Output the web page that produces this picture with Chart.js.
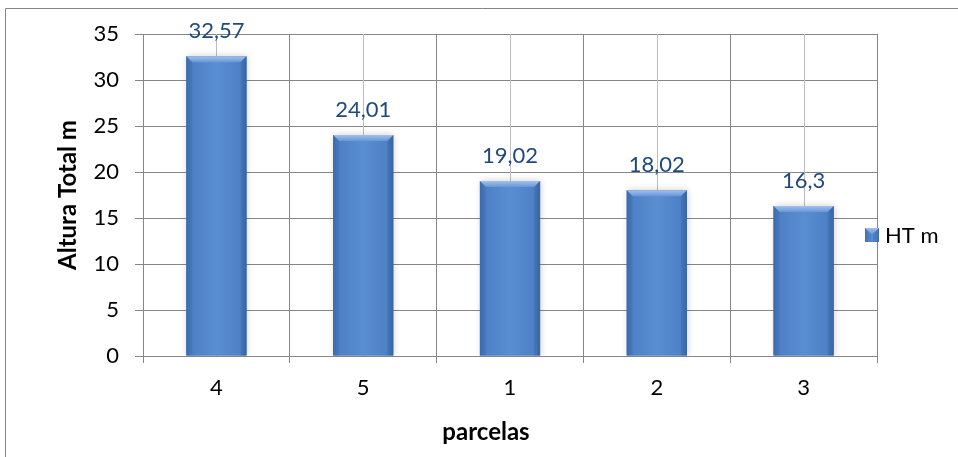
<!DOCTYPE html>
<html>
<head>
<meta charset="utf-8">
<script src="https://cdn.jsdelivr.net/npm/chart.js@4.4.1/dist/chart.umd.min.js"></script>
<style>
  html, body { margin: 0; padding: 0; background: #ffffff; }
  #wrap { position: relative; width: 958px; height: 457px; }
</style>
</head>
<body>
<div id="wrap"><canvas id="chart" width="958" height="457"></canvas></div>
<script>
// Altura total média por parcela
const categories = ['4', '5', '1', '2', '3'];
const htValues = [32.57, 24.01, 19.02, 18.02, 16.3];
const seriesLabel = 'HT m';
const yAxisTitle = 'Altura Total m';
const xAxisTitle = 'parcelas';
const yMin = 0, yMax = 35, yStep = 5;

const FONT = 'Lato, "Liberation Sans", sans-serif';
const GRID = '#868686';
const LABEL_BLUE = '#1F497D';

const fmt = v => String(v).replace('.', ',');

// Horizontal shading for a bar spanning [x0, x1]
function barGradient(ctx, x0, x1) {
  const g = ctx.createLinearGradient(x0, 0, x1, 0);
  g.addColorStop(0, '#3F6FB2');
  g.addColorStop(0.1, '#4D80C5');
  g.addColorStop(0.5, '#5A8ED3');
  g.addColorStop(0.9, '#4D80C5');
  g.addColorStop(1, '#3C6AAB');
  return g;
}

function drawBevelBar(ctx, left, right, top, bottom) {
  ctx.fillStyle = barGradient(ctx, left, right);
  ctx.fillRect(left, top, right - left, bottom - top);
  const b = Math.min(6, (bottom - top) / 2);
  // top bevel
  const tg = ctx.createLinearGradient(0, top, 0, top + b);
  tg.addColorStop(0, '#A3C1EA');
  tg.addColorStop(1, '#6696D8');
  ctx.fillStyle = tg;
  ctx.beginPath();
  ctx.moveTo(left, top);
  ctx.lineTo(right, top);
  ctx.lineTo(right - b, top + b);
  ctx.lineTo(left + b, top + b);
  ctx.closePath();
  ctx.fill();
  // side bevels
  ctx.fillStyle = 'rgba(40,75,130,0.18)';
  ctx.beginPath();
  ctx.moveTo(right, top);
  ctx.lineTo(right, bottom);
  ctx.lineTo(right - b, bottom);
  ctx.lineTo(right - b, top + b);
  ctx.closePath();
  ctx.fill();
  ctx.fillStyle = 'rgba(40,75,130,0.12)';
  ctx.beginPath();
  ctx.moveTo(left, top);
  ctx.lineTo(left + b, top + b);
  ctx.lineTo(left + b, bottom);
  ctx.lineTo(left, bottom);
  ctx.closePath();
  ctx.fill();
}

const decorPlugin = {
  id: 'decor',
  beforeDraw(chart) {
    const ctx = chart.ctx;
    ctx.save();
    ctx.fillStyle = '#ffffff';
    ctx.fillRect(0, 0, chart.width, chart.height);
    ctx.strokeStyle = GRID;
    ctx.lineWidth = 1;
    ctx.beginPath();
    ctx.moveTo(5.5, chart.height + 5);
    ctx.lineTo(5.5, 8.5);
    ctx.lineTo(chart.width + 5, 8.5);
    ctx.stroke();
    ctx.restore();
  },
  beforeDatasetsDraw(chart) {
    // light lines through each category centre
    const ctx = chart.ctx, xs = chart.scales.x, area = chart.chartArea;
    ctx.save();
    ctx.strokeStyle = '#BDBDBD';
    ctx.lineWidth = 1;
    categories.forEach((c, i) => {
      const x = Math.round(xs.getPixelForValue(i)) + 0.5;
      ctx.beginPath();
      ctx.moveTo(x, area.top);
      ctx.lineTo(x, area.bottom);
      ctx.stroke();
    });
    ctx.restore();
  },
  beforeDatasetDraw(chart) {
    const ctx = chart.ctx;
    ctx.save();
    ctx.shadowColor = 'rgba(0,0,0,0.2)';
    ctx.shadowBlur = 7;
    ctx.shadowOffsetX = 1;
    ctx.shadowOffsetY = 0;
  },
  afterDatasetDraw(chart) {
    const ctx = chart.ctx;
    ctx.restore();
    const meta = chart.getDatasetMeta(0);
    ctx.save();
    meta.data.forEach(bar => {
      const half = bar.width / 2;
      drawBevelBar(ctx, bar.x - half, bar.x + half, bar.y, bar.base);
    });
    ctx.restore();
  },
  afterDatasetsDraw(chart) {
    const ctx = chart.ctx;
    const meta = chart.getDatasetMeta(0);
    const values = chart.data.datasets[0].data;
    ctx.save();
    ctx.font = '22px ' + FONT;
    ctx.fillStyle = LABEL_BLUE;
    ctx.textAlign = 'center';
    ctx.textBaseline = 'middle';
    meta.data.forEach((bar, i) => {
      ctx.fillText(fmt(values[i]), bar.x, bar.y - 25);
    });
    ctx.restore();
  },
  afterDraw(chart) {
    const ctx = chart.ctx, area = chart.chartArea;
    ctx.save();
    // axis titles
    ctx.fillStyle = '#000000';
    ctx.font = 'bold 24px ' + FONT;
    ctx.textAlign = 'center';
    ctx.textBaseline = 'middle';
    ctx.fillText(xAxisTitle, area.left + (area.right - area.left) / 2 - 24, area.bottom + 76);
    ctx.save();
    ctx.translate(68, (area.top + area.bottom) / 2);
    ctx.rotate(-Math.PI / 2);
    ctx.fillText(yAxisTitle, 0, 0);
    ctx.restore();
    // legend
    const sx = area.right - 12, sy = 228, s = 14;
    drawBevelBar(ctx, sx, sx + s, sy, sy + s);
    ctx.font = '22px ' + FONT;
    ctx.textAlign = 'left';
    ctx.fillStyle = '#000000';
    ctx.fillText(chart.data.datasets[0].label, sx + s + 6, sy + s / 2 + 1);
    ctx.restore();
  }
};

new Chart(document.getElementById('chart'), {
  type: 'bar',
  data: {
    labels: categories,
    datasets: [{
      label: seriesLabel,
      data: htValues,
      backgroundColor: '#4F81BD',
      borderWidth: 0,
      categoryPercentage: 1.0,
      barPercentage: 0.41
    }]
  },
  options: {
    responsive: false,
    animation: false,
    devicePixelRatio: 1,
    layout: { padding: { left: 0, top: 34, right: 81, bottom: 0 } },
    scales: {
      x: {
        grid: { color: GRID, offset: true, tickLength: 7, lineWidth: 1 },
        border: { color: GRID },
        ticks: { color: '#000000', font: { family: FONT, size: 22 }, padding: 12 },
        afterFit(scale) { scale.height = 101; }
      },
      y: {
        min: yMin,
        max: yMax,
        grid: { color: GRID, tickLength: 8, lineWidth: 1 },
        border: { color: GRID },
        ticks: { stepSize: yStep, color: '#000000', font: { family: FONT, size: 22 }, padding: 16 },
        afterFit(scale) { scale.width = 143; }
      }
    },
    plugins: {
      legend: { display: false },
      tooltip: { enabled: false }
    }
  },
  plugins: [decorPlugin]
});
</script>
</body>
</html>
